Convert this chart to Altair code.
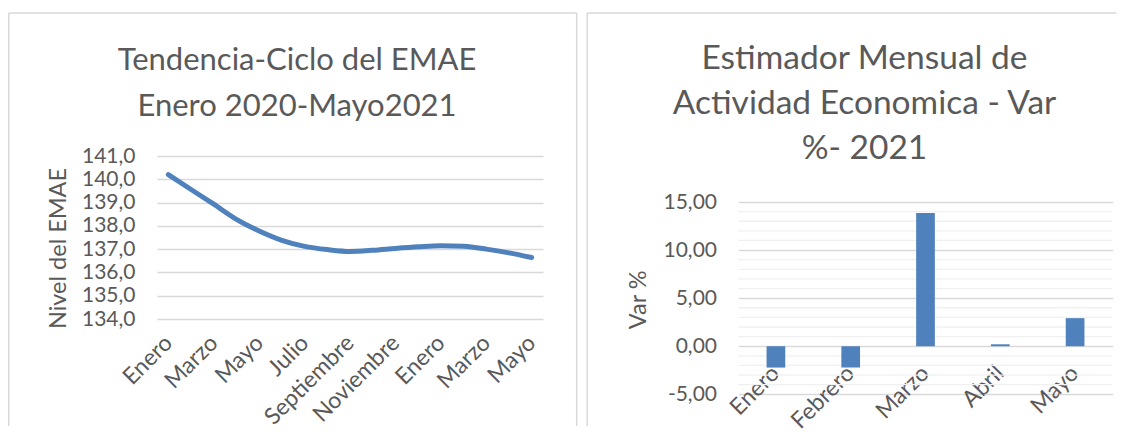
import json
import altair as alt
import pandas as pd

# ---------------- data ----------------
meses = ["Enero", "Febrero", "Marzo", "Abril", "Mayo", "Junio", "Julio", "Agosto",
         "Septiembre", "Octubre", "Noviembre", "Diciembre",
         "Enero", "Febrero", "Marzo", "Abril", "Mayo"]
emae = [140.20, 139.56, 138.93, 138.28, 137.78, 137.38, 137.12, 136.98, 136.90,
        136.95, 137.03, 137.10, 137.15, 137.12, 137.00, 136.84, 136.64]

meses_2021 = ["Enero", "Febrero", "Marzo", "Abril", "Mayo"]
var_2021 = [-2.22, -2.22, 13.85, 0.20, 2.92]

ticks_emae = [134, 135, 136, 137, 138, 139, 140, 141]
ticks_var = [-5, 0, 5, 10, 15]
minor_var = [-4, -3, -2, -1, 1, 2, 3, 4, 6, 7, 8, 9, 11, 12, 13, 14]
labels_shown = [0, 2, 4, 6, 8, 10, 12, 14, 16]

titulo_1 = ["Tendencia-Ciclo del EMAE", "Enero 2020-Mayo2021"]
titulo_2 = ["Estimador Mensual de", "Actividad Economica - Var", "%- 2021"]

# ---------------- style ----------------
FONT = "Lato"
GREY = "#595959"
BLUE = "#4F81BD"
GRID = "#d9d9d9"
MINOR = "#f0f0f0"
BORDER = "#d9d9d9"

one = pd.DataFrame({"k": [0]})


def hrule(x1, x2, y):
    return alt.Chart(one).mark_rule(color=BORDER, strokeWidth=1.5).encode(
        x=alt.value(x1), x2=alt.value(x2), y=alt.value(y))


def vrule(x, y1, y2):
    return alt.Chart(one).mark_rule(color=BORDER, strokeWidth=1.5).encode(
        x=alt.value(x), y=alt.value(y1), y2=alt.value(y2))


def title_text(lines, cx, y, lh, size):
    return alt.Chart(pd.DataFrame({"t": ["\n".join(lines)]})).mark_text(
        font=FONT, fontSize=size, color=GREY, align="center", baseline="alphabetic",
        lineBreak="\n", lineHeight=lh).encode(text="t:N", x=alt.value(cx), y=alt.value(y))


# ---------------- left panel ----------------
W1, H1 = 386, 163
df1 = pd.DataFrame({"i": list(range(len(emae))), "v": emae})
lab_arr = json.dumps(meses).replace('"', "'")

x1 = alt.X("i:O", scale=alt.Scale(type="point", padding=0.5),
           axis=alt.Axis(title=None, values=labels_shown,
                         labelExpr=f"{lab_arr}[datum.value]",
                         labelAngle=-45, labelAlign="right", labelBaseline="middle",
                         labelPadding=20, labelFontSize=23))
y1 = alt.Y("v:Q", scale=alt.Scale(domain=[134, 141], nice=False, zero=False),
           axis=alt.Axis(values=ticks_emae, title="Nivel del EMAE",
                         titleX=-92, titleY=92, titleAngle=270, titleAlign="center",
                         titleBaseline="alphabetic",
                         labelExpr="replace(format(datum.value, '.1f'), '.', ',')",
                         labelPadding=22))

line = alt.Chart(df1).mark_line(interpolate="monotone", strokeWidth=5, strokeCap="round",
                                color=BLUE).encode(x=x1, y=y1)

left = alt.layer(
    line,
    title_text(titulo_1, 140, -86.4, 46.4, 31),
    vrule(-148.25, -143, 270),
    hrule(-148.25, 419.7, -143),
    vrule(419.7, -143, 270),
).properties(width=W1, height=H1)

# ---------------- right panel ----------------
W2, H2 = 374, 238.3
df2 = pd.DataFrame({"m": meses_2021, "v": var_2021})

x2 = alt.X("m:N", sort=meses_2021, scale=alt.Scale(paddingInner=0.75, paddingOuter=0.375),
           axis=alt.Axis(title=None, labelAngle=-45, labelAlign="right",
                         labelBaseline="middle", offset=-48, labelPadding=23,
                         labelFontSize=23))
y2 = alt.Y("v:Q", scale=alt.Scale(domain=[-5, 15], range=[H2, 46], nice=False, zero=False),
           axis=alt.Axis(values=ticks_var, title="Var %",
                         titleX=-93, titleY=143.3, titleAngle=270, titleAlign="center",
                         titleBaseline="alphabetic",
                         labelExpr="replace(replace(format(datum.value, '.2f'), '.', ','), '\u2212', '-')",
                         labelPadding=22))

minor = alt.Chart(pd.DataFrame({"v": minor_var})).mark_rule(
    color=MINOR, strokeWidth=1.3).encode(y=y2)
bars = alt.Chart(df2).mark_bar(color=BLUE).encode(x=x2, y=y2)

right = alt.layer(
    minor,
    bars,
    title_text(titulo_2, 126, -87.4, 45, 33.5),
    vrule(-151.3, -143, 270),
    hrule(-151.3, 378, -143),
).properties(width=W2, height=H2)

chart = alt.hconcat(left, right, spacing=7.5).properties(
    padding={"left": 0, "top": 4, "right": 0, "bottom": 0}
).configure_view(stroke=None).configure_axis(
    labelFont=FONT, labelColor=GREY, labelFontSize=21,
    titleFont=FONT, titleColor=GREY, titleFontSize=23.5, titleFontWeight="normal",
    gridColor=GRID, gridWidth=1.3, domain=False, ticks=False, tickSize=0
)

chart.save("out.html", embed_options={"renderer": "svg", "actions": False})
